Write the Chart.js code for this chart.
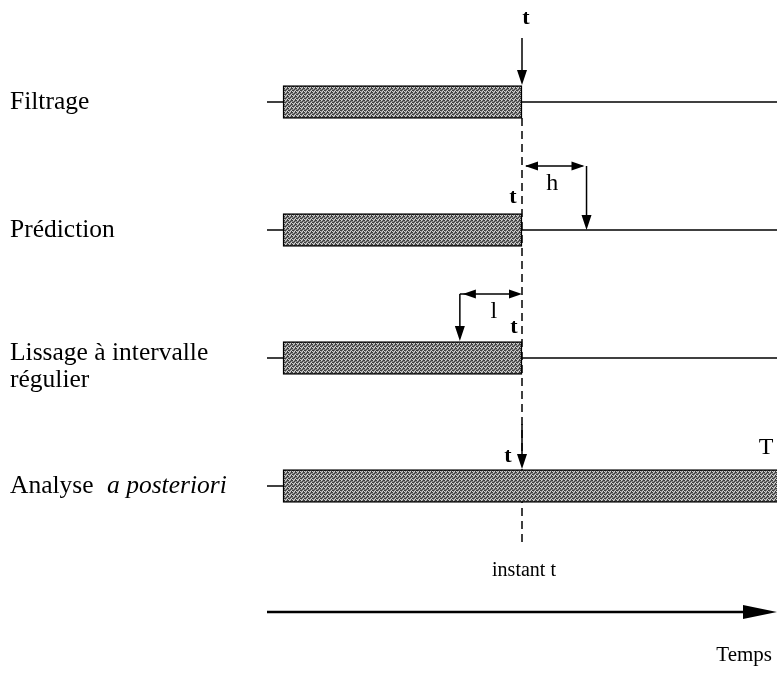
<!DOCTYPE html>
<html>
<head>
<meta charset="utf-8">
<script src="https://cdn.jsdelivr.net/npm/chart.js@4.4.0/dist/chart.umd.min.js"></script>
<style>
  html, body { margin: 0; padding: 0; background: #fff; }
  #wrap { width: 777px; height: 673px; }
</style>
</head>
<body>
<div id="wrap"><canvas id="chart"></canvas></div>
<script>
// rows of the diagram
const rows = ['Filtrage', 'Prédiction', 'Lissage à intervalle régulier', 'Analyse a posteriori'];
// observation window of each row, in time units (0 = start, 1 = instant t)
const obsStart = [0, 0, 0, 0];
const obsEnd = [1, 1, 1, 2.1];
const tNow = 1;       // instant t
const horizon = 0.27; // h
const lag = 0.26;     // l
const timeMin = -0.067;
const timeMax = 2.067;

const SERIF = '"Liberation Serif", "DejaVu Serif", serif';
const ctx = document.getElementById('chart').getContext('2d');

// grey dithered fill like the scanned bars
function makePattern() {
    const c = document.createElement('canvas');
    c.width = 4; c.height = 4;
    const p = c.getContext('2d');
    p.fillStyle = '#8a8a8a';
    p.fillRect(0, 0, 4, 4);
    p.fillStyle = '#3c3c3c';
    [[0, 0], [2, 1], [1, 2], [3, 3], [3, 0], [0, 2]].forEach(([x, y]) => p.fillRect(x, y, 1, 1));
    p.fillStyle = '#d2d2d2';
    [[1, 0], [3, 2], [0, 3], [2, 3]].forEach(([x, y]) => p.fillRect(x, y, 1, 1));
    return ctx.createPattern(c, 'repeat');
}

function head(c, fx, fy, tx, ty, len, half) {
    const a = Math.atan2(ty - fy, tx - fx);
    const bx = tx - len * Math.cos(a), by = ty - len * Math.sin(a);
    c.beginPath();
    c.moveTo(tx, ty);
    c.lineTo(bx + half * Math.sin(a), by - half * Math.cos(a));
    c.lineTo(bx - half * Math.sin(a), by + half * Math.cos(a));
    c.closePath();
    c.fill();
}

function line(c, x0, y0, x1, y1) {
    c.beginPath();
    c.moveTo(x0, y0);
    c.lineTo(x1, y1);
    c.stroke();
}

function text(c, s, x, y, font, align) {
    c.font = font;
    c.textAlign = align || 'left';
    c.textBaseline = 'middle';
    c.fillText(s, x, y);
}

const timeline = {
    id: 'timeline',
    beforeDatasetsDraw(chart) {
        const c = chart.ctx, xs = chart.scales.x, ys = chart.scales.y;
        c.save();
        c.strokeStyle = '#000';
        c.lineWidth = 1.5;
        rows.forEach((r, i) => {
            const y = ys.getPixelForValue(i);
            line(c, xs.getPixelForValue(timeMin), y, xs.getPixelForValue(timeMax), y);
        });
        // dashed instant t
        const xt = xs.getPixelForValue(tNow);
        c.setLineDash([8, 5]);
        line(c, xt, ys.getPixelForValue(0) + 16, xt, ys.getPixelForValue(3) + 61);
        c.restore();
    },
    afterDatasetsDraw(chart) {
        const c = chart.ctx, xs = chart.scales.x, ys = chart.scales.y;
        const xt = xs.getPixelForValue(tNow);
        const r0 = ys.getPixelForValue(0), r1 = ys.getPixelForValue(1);
        const r2 = ys.getPixelForValue(2), r3 = ys.getPixelForValue(3);
        c.save();
        c.strokeStyle = '#000';
        c.fillStyle = '#000';
        c.lineWidth = 1.5;

        // filtrage arrow
        line(c, xt, r0 - 64, xt, r0 - 22);
        head(c, xt, r0 - 64, xt, r0 - 17, 15, 5);

        // prediction: horizon h
        const xh = xs.getPixelForValue(tNow + horizon);
        line(c, xt + 4, r1 - 64, xh - 4, r1 - 64);
        head(c, xh, r1 - 64, xt + 3, r1 - 64, 13, 4.5);
        head(c, xt, r1 - 64, xh - 2, r1 - 64, 13, 4.5);
        line(c, xh, r1 - 64, xh, r1 - 6);
        head(c, xh, r1 - 64, xh, r1, 15, 5);

        // smoothing: lag l
        const xl = xs.getPixelForValue(tNow - lag);
        line(c, xl, r2 - 64, xt - 4, r2 - 64);
        head(c, xl, r2 - 64, xt, r2 - 64, 13, 4.5);
        head(c, xt, r2 - 64, xl + 3, r2 - 64, 13, 4.5);
        line(c, xl, r2 - 64, xl, r2 - 22);
        head(c, xl, r2 - 64, xl, r2 - 17, 15, 5);

        // analyse arrow
        line(c, xt, r3 - 62, xt, r3 - 22);
        head(c, xt, r3 - 62, xt, r3 - 17, 15, 5);

        // time axis
        const ya = 612;
        const x0 = xs.getPixelForValue(timeMin), x1 = xs.getPixelForValue(timeMax);
        c.lineWidth = 2.5;
        line(c, x0, ya, x1 - 20, ya);
        head(c, x0, ya, x1, ya, 34, 7);

        // labels
        const f = '25.5px ' + SERIF;
        text(c, 'Filtrage', 10, r0, f);
        text(c, 'Prédiction', 10, r1, f);
        text(c, 'Lissage à intervalle', 10, r2 - 5, f);
        text(c, 'régulier', 10, r2 + 22, f);
        text(c, 'Analyse', 10, r3, f);
        text(c, 'a posteriori', 107, r3, 'italic 25.5px ' + SERIF);

        const ft = 'bold 22px ' + SERIF;
        text(c, 't', xt + 4, 18, ft, 'center');
        text(c, 't', xt - 9, r1 - 33, ft, 'center');
        text(c, 't', xt - 8, r2 - 31, ft, 'center');
        text(c, 't', xt - 14, r3 - 30, ft, 'center');
        text(c, 'h', (xt + xh) / 2 - 2, r1 - 46, '24px ' + SERIF, 'center');
        text(c, 'l', (xt + xl) / 2 + 3, r2 - 46, '24px ' + SERIF, 'center');
        text(c, 'T', 766, r3 - 38, '24px ' + SERIF, 'center');
        text(c, 'instant t', xt + 2, 571, '20px ' + SERIF, 'center');
        text(c, 'Temps', 772, 655, '21px ' + SERIF, 'right');
        c.restore();
    }
};

const chart = new Chart(ctx, {
    type: 'bar',
    data: {
        labels: rows,
        datasets: [{
            data: rows.map((r, i) => [obsStart[i], obsEnd[i]]),
            backgroundColor: makePattern(),
            borderColor: '#000',
            borderWidth: 1.5,
            borderSkipped: false,
            barThickness: 33
        }]
    },
    options: {
        indexAxis: 'y',
        responsive: true,
        maintainAspectRatio: false,
        animation: false,
        layout: { padding: { left: 267, right: 0, top: 38, bottom: 123 } },
        plugins: {
            legend: { display: false },
            tooltip: { enabled: false }
        },
        scales: {
            x: { type: 'linear', min: timeMin, max: timeMax, display: false },
            y: { display: false }
        }
    },
    plugins: [timeline]
});
</script>
</body>
</html>
